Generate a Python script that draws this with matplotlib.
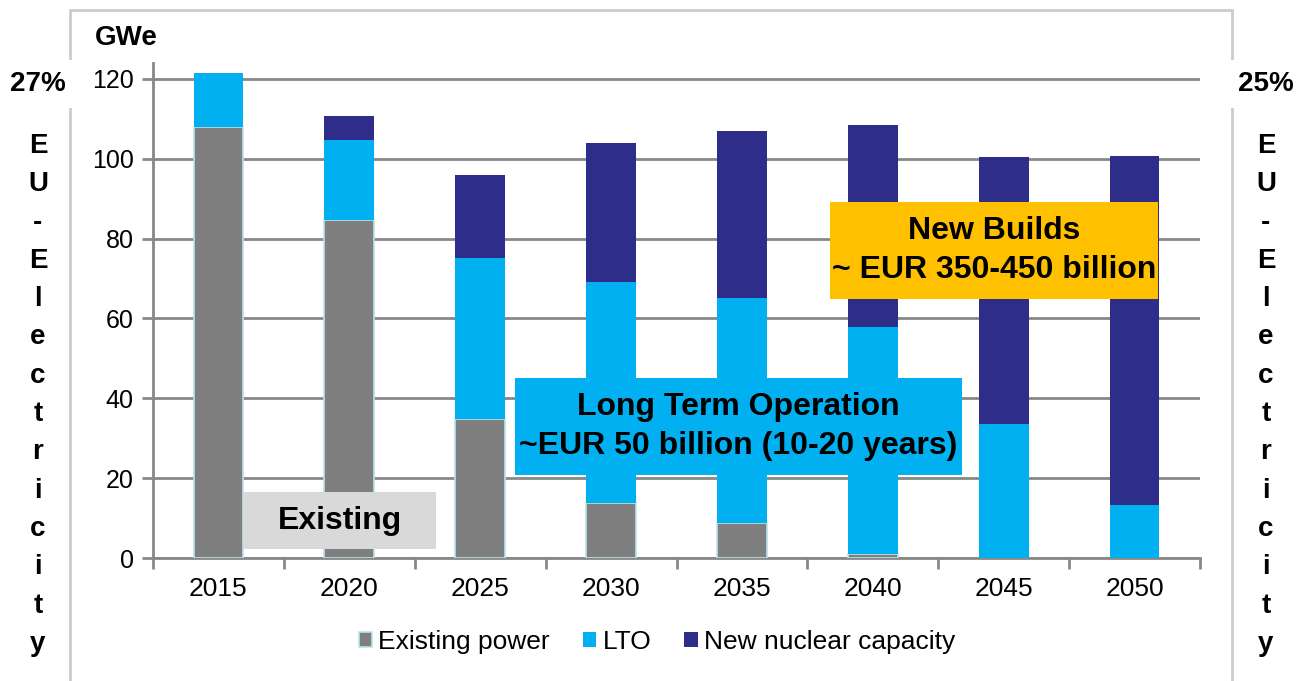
import matplotlib.pyplot as plt
import numpy as np
from matplotlib.patches import Rectangle

plt.rcParams['font.family'] = ['Liberation Sans', 'DejaVu Sans']

years = ['2015', '2020', '2025', '2030', '2035', '2040', '2045', '2050']
existing = [108, 84.7, 34.8, 13.8, 8.8, 1.0, 0, 0]
lto = [13.5, 20.1, 40.4, 55.4, 56.4, 56.9, 33.6, 13.3]
new_cap = [0, 6.0, 20.8, 34.8, 41.8, 50.6, 66.9, 87.5]
series_labels = ['Existing power', 'LTO', 'New nuclear capacity']
left_share = '27%'
right_share = '25%'
side_word = 'EU-Electricity'

c_exist = '#7f7f7f'
c_lto = '#00b0f0'
c_new = '#2e2e8a'

W, H = 1299, 681
fig = plt.figure(figsize=(W / 100, H / 100), dpi=100)
ax = fig.add_axes([153 / W, 1 - 558 / H, (1200 - 153) / W, (558 - 63) / H])

x = np.arange(len(years))
w = 0.38
exist = np.array(existing)
l = np.array(lto)
n = np.array(new_cap)
ax.bar(x, exist, w, color=c_exist, edgecolor='#b7e4ec', linewidth=1.2, label=series_labels[0], zorder=3)
ax.bar(x, l, w, bottom=exist, color=c_lto, edgecolor='none', label=series_labels[1], zorder=3)
ax.bar(x, n, w, bottom=exist + l, color=c_new, edgecolor='none', label=series_labels[2], zorder=3)

ax.set_xlim(-0.5, len(years) - 0.5)
ax.set_ylim(0, 124)
ax.set_yticks(range(0, 121, 20))
ax.tick_params(axis='y', labelsize=18, length=8, color='#888888', width=2, pad=6)
ax.set_xticks(x)
ax.set_xticklabels(years, fontsize=19)
ax.tick_params(axis='x', length=0, pad=14)
ax.set_xticks(np.arange(-0.5, len(years), 1), minor=True)
ax.tick_params(axis='x', which='minor', length=8, color='#888888', width=2)
ax.grid(axis='y', color='#888888', linewidth=2, zorder=0)
for s in ['top', 'right']:
    ax.spines[s].set_visible(False)
for s in ['left', 'bottom']:
    ax.spines[s].set_color('#888888')
    ax.spines[s].set_linewidth(2)


def label_box(x0, y0, x1, y1, color, text):
    # box given in pixel coords of the figure (y from top)
    fig.add_artist(Rectangle((x0 / W, 1 - y1 / H), (x1 - x0) / W, (y1 - y0) / H,
                             transform=fig.transFigure, fc=color, ec='none', zorder=5))
    fig.text((x0 + x1) / 2 / W, 1 - (y0 + y1) / 2 / H, text, fontsize=23, fontweight='bold',
             ha='center', va='center', linespacing=1.35, zorder=6)


label_box(243, 492, 436, 549, '#d9d9d9', 'Existing')
label_box(515, 378, 962, 475, c_lto, 'Long Term Operation\n~EUR 50 billion (10-20 years)')
label_box(830, 202, 1158, 299, '#ffc000', 'New Builds\n~ EUR 350-450 billion')

fig.legend(*ax.get_legend_handles_labels(), loc='center', bbox_to_anchor=(657 / W, 1 - 642 / H),
           ncol=3, frameon=False, fontsize=19, handlelength=0.5, handleheight=0.5,
           handletextpad=0.25, columnspacing=1.25)

# outer frame
fig.add_artist(Rectangle((70 / W, -0.01), (1232 - 70) / W, 1 - 10 / H + 0.01,
                         transform=fig.transFigure, fill=False, ec='#cccccc', lw=2, zorder=0))

fig.text(126 / W, 1 - 38 / H, 'GWe', fontsize=20, fontweight='bold', ha='center', va='center',
         bbox=dict(fc='white', ec='none', pad=3))
for xp, share in [(38, left_share), (1266, right_share)]:
    fig.text(xp / W, 1 - 84 / H, share, fontsize=20, fontweight='bold', ha='center', va='center',
             bbox=dict(fc='white', ec='none', pad=8))
    fig.text(xp / W, 1 - 133 / H, '\n'.join(side_word), fontsize=20, fontweight='bold',
             ha='center', va='top', linespacing=1.615)

fig.savefig('out.png', dpi=100)
